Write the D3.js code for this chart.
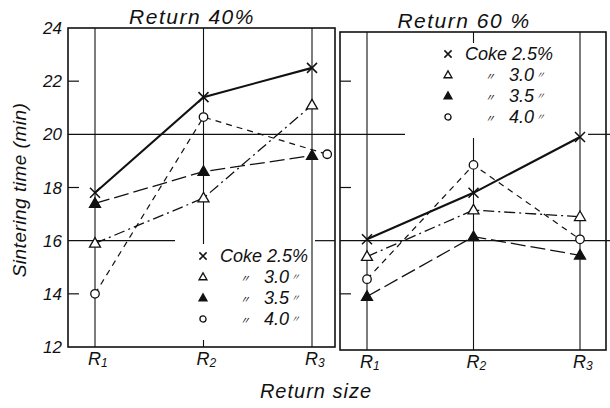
<!DOCTYPE html>
<html>
<head>
<meta charset="utf-8">
<script src="https://cdn.jsdelivr.net/npm/d3@7"></script>
<style>
  body { margin: 0; background: #fff; }
  text { font-family: "Liberation Sans", sans-serif; font-style: italic; fill: #111; }
</style>
</head>
<body>
<svg id="chart" width="610" height="408"></svg>
<script>
// values (sintering time, min)
let categories = ["R1", "R2", "R3"],
    positions = [1, 2, 3],
    coke_levels = ["2.5", "3.0", "3.5", "4.0"],
    y_ticks = [12, 14, 16, 18, 20, 22, 24];

// Return 40 %
let r40_coke25 = [17.8, 21.4, 22.5],
    r40_coke30 = [15.9, 17.6, 21.1],
    r40_coke35 = [17.4, 18.6, 19.2],
    r40_coke40 = [14.0, 20.65, 19.25],
    r40_coke40_pos = [1, 2, 3.14];   // last circle sits right of the R3 line

// Return 60 %
let r60_coke25 = [16.05, 17.8, 19.9],
    r60_coke30 = [15.4, 17.15, 16.9],
    r60_coke35 = [13.9, 16.15, 15.45],
    r60_coke40 = [14.55, 18.85, 16.05];

let svg = d3.select("#chart"),
    ink = "#111";

let y = d3.scaleLinear().domain([12, 24]).range([347, 28]);

let panels = [
  {title: "Return 40%", tx: 192, ty: 24, left: 68, right: 335, top: 28, bottom: 347,
   x: d3.scaleLinear().domain([1, 3]).range([95, 312]),
   series: [r40_coke25, r40_coke30, r40_coke35, r40_coke40],
   pos: [positions, positions, positions, r40_coke40_pos],
   legend: {x: 203, y: 256}, blank: [194, 244, 110, 96]},
  {title: "Return 60 %", tx: 464, ty: 28, left: 340, right: 606, top: 32, bottom: 350,
   x: d3.scaleLinear().domain([1, 3]).range([367, 580]),
   series: [r60_coke25, r60_coke30, r60_coke35, r60_coke40],
   pos: [positions, positions, positions, positions],
   legend: {x: 448, y: 54}, blank: [440, 43, 120, 95]}
];

let styles = [
  {dash: null, width: 2.1, marker: "cross"},
  {dash: "11,4,2,4", width: 1.3, marker: "tri"},
  {dash: "15,5", width: 1.3, marker: "tri_fill"},
  {dash: "6,5", width: 1.2, marker: "circle"}
];

function marker(g, type, cx, cy, s) {
  if (type == "cross") {
    g.append("path")
      .attr("d", `M${cx - s},${cy - s}L${cx + s},${cy + s}M${cx - s},${cy + s}L${cx + s},${cy - s}`)
      .attr("stroke", ink).attr("stroke-width", 1.5);
  } else if (type == "circle") {
    g.append("circle").attr("cx", cx).attr("cy", cy).attr("r", s * 0.85)
      .attr("fill", "#fff").attr("stroke", ink).attr("stroke-width", 1.3);
  } else {
    let h = s * 1.9;
    g.append("path")
      .attr("d", `M${cx},${cy - h * 0.6}L${cx + s * 1.1},${cy + h * 0.4}L${cx - s * 1.1},${cy + h * 0.4}Z`)
      .attr("fill", type == "tri_fill" ? ink : "#fff")
      .attr("stroke", ink).attr("stroke-width", 1.3);
  }
}

function draw_frame(p, i) {
  let g = svg.append("g");
  g.append("rect")
    .attr("x", p.left).attr("y", p.top)
    .attr("width", p.right - p.left).attr("height", p.bottom - p.top)
    .attr("fill", "none").attr("stroke", ink).attr("stroke-width", 1.6);

  // vertical lines through R1..R3
  g.selectAll(".v").data(positions).enter().append("line")
    .attr("x1", d => p.x(d)).attr("x2", d => p.x(d))
    .attr("y1", p.top).attr("y2", p.bottom)
    .attr("stroke", ink).attr("stroke-width", 1.1);

  // short inner ticks
  g.selectAll(".t").data([14, 18, 22]).enter().append("line")
    .attr("x1", p.left).attr("x2", p.left + 11)
    .attr("y1", d => y(d)).attr("y2", d => y(d))
    .attr("stroke", ink).attr("stroke-width", 1.2);

  // x tick labels
  let lab = g.selectAll(".xl").data(categories).enter().append("text")
    .attr("x", (d, j) => p.x(positions[j]) - 7)
    .attr("y", p.bottom + 18)
    .attr("font-size", 18);
  lab.append("tspan").text(d => d[0]);
  lab.append("tspan").attr("font-size", 12).attr("dy", 2).text(d => d.slice(1));

  // title
  g.append("text").attr("x", p.tx).attr("y", p.ty)
    .attr("text-anchor", "middle").attr("font-size", 21)
    .attr("letter-spacing", 1.5).text(p.title);
}

function draw_series(p) {
  let g = svg.append("g");
  p.series.forEach((vals, k) => {
    let pts = vals.map((v, j) => [p.x(p.pos[k][j]), y(v)]);
    g.append("path")
      .attr("d", d3.line()(pts))
      .attr("fill", "none").attr("stroke", ink)
      .attr("stroke-width", styles[k].width)
      .attr("stroke-dasharray", styles[k].dash);
  });
  p.series.forEach((vals, k) => {
    vals.forEach((v, j) => marker(g, styles[k].marker, p.x(p.pos[k][j]), y(v), 5));
  });
}

function draw_legend(p) {
  // legend sits on white, breaking the R2 line
  svg.append("rect")
    .attr("x", p.blank[0]).attr("y", p.blank[1])
    .attr("width", p.blank[2]).attr("height", p.blank[3])
    .attr("fill", "#fff");
  let g = svg.append("g").attr("transform", `translate(${p.legend.x},${p.legend.y})`);
  coke_levels.forEach((c, k) => {
    let yy = k * 21;
    marker(g, styles[k].marker, 0, yy, 3.6);
    if (k == 0) {
      g.append("text").attr("x", 17).attr("y", yy + 6).attr("font-size", 18)
        .text(`Coke ${c}%`);
    } else {
      g.append("text").attr("x", 37).attr("y", yy + 5)
        .attr("font-size", 10).attr("font-style", "normal")
        .style("font-family", "'Noto Sans CJK JP'").text("〃");
      g.append("text").attr("x", 61).attr("y", yy + 6).attr("font-size", 18).text(c);
      g.append("text").attr("x", 88).attr("y", yy + 3)
        .attr("font-size", 9).attr("font-style", "normal")
        .style("font-family", "'Noto Sans CJK JP'").text("〃");
    }
  });
}

panels.forEach(draw_frame);

// long horizontal rules
let rules = [
  {v: 20, x1: 68, x2: 405},
  {v: 16, x1: 68, x2: 175},
  {v: 16, x1: 315, x2: 335},
  {v: 16, x1: 340, x2: 610},
  {v: 20, x1: 588, x2: 610}
];
svg.append("g").selectAll("line").data(rules).enter().append("line")
  .attr("x1", d => d.x1).attr("x2", d => d.x2)
  .attr("y1", d => y(d.v)).attr("y2", d => y(d.v))
  .attr("stroke", ink).attr("stroke-width", 1.2);

// y axis labels
svg.append("g").selectAll("text").data(y_ticks).enter().append("text")
  .attr("x", 62).attr("y", d => y(d) + 6)
  .attr("text-anchor", "end").attr("font-size", 17)
  .text(d => d);

panels.forEach(draw_legend);
panels.forEach(draw_series);

svg.append("text")
  .attr("transform", "translate(26,190) rotate(-90)")
  .attr("text-anchor", "middle").attr("font-size", 19)
  .attr("letter-spacing", 0.5)
  .text("Sintering time (min)");

svg.append("text")
  .attr("x", 316).attr("y", 398)
  .attr("text-anchor", "middle").attr("font-size", 20)
  .attr("letter-spacing", 1)
  .text("Return size");
</script>
</body>
</html>
